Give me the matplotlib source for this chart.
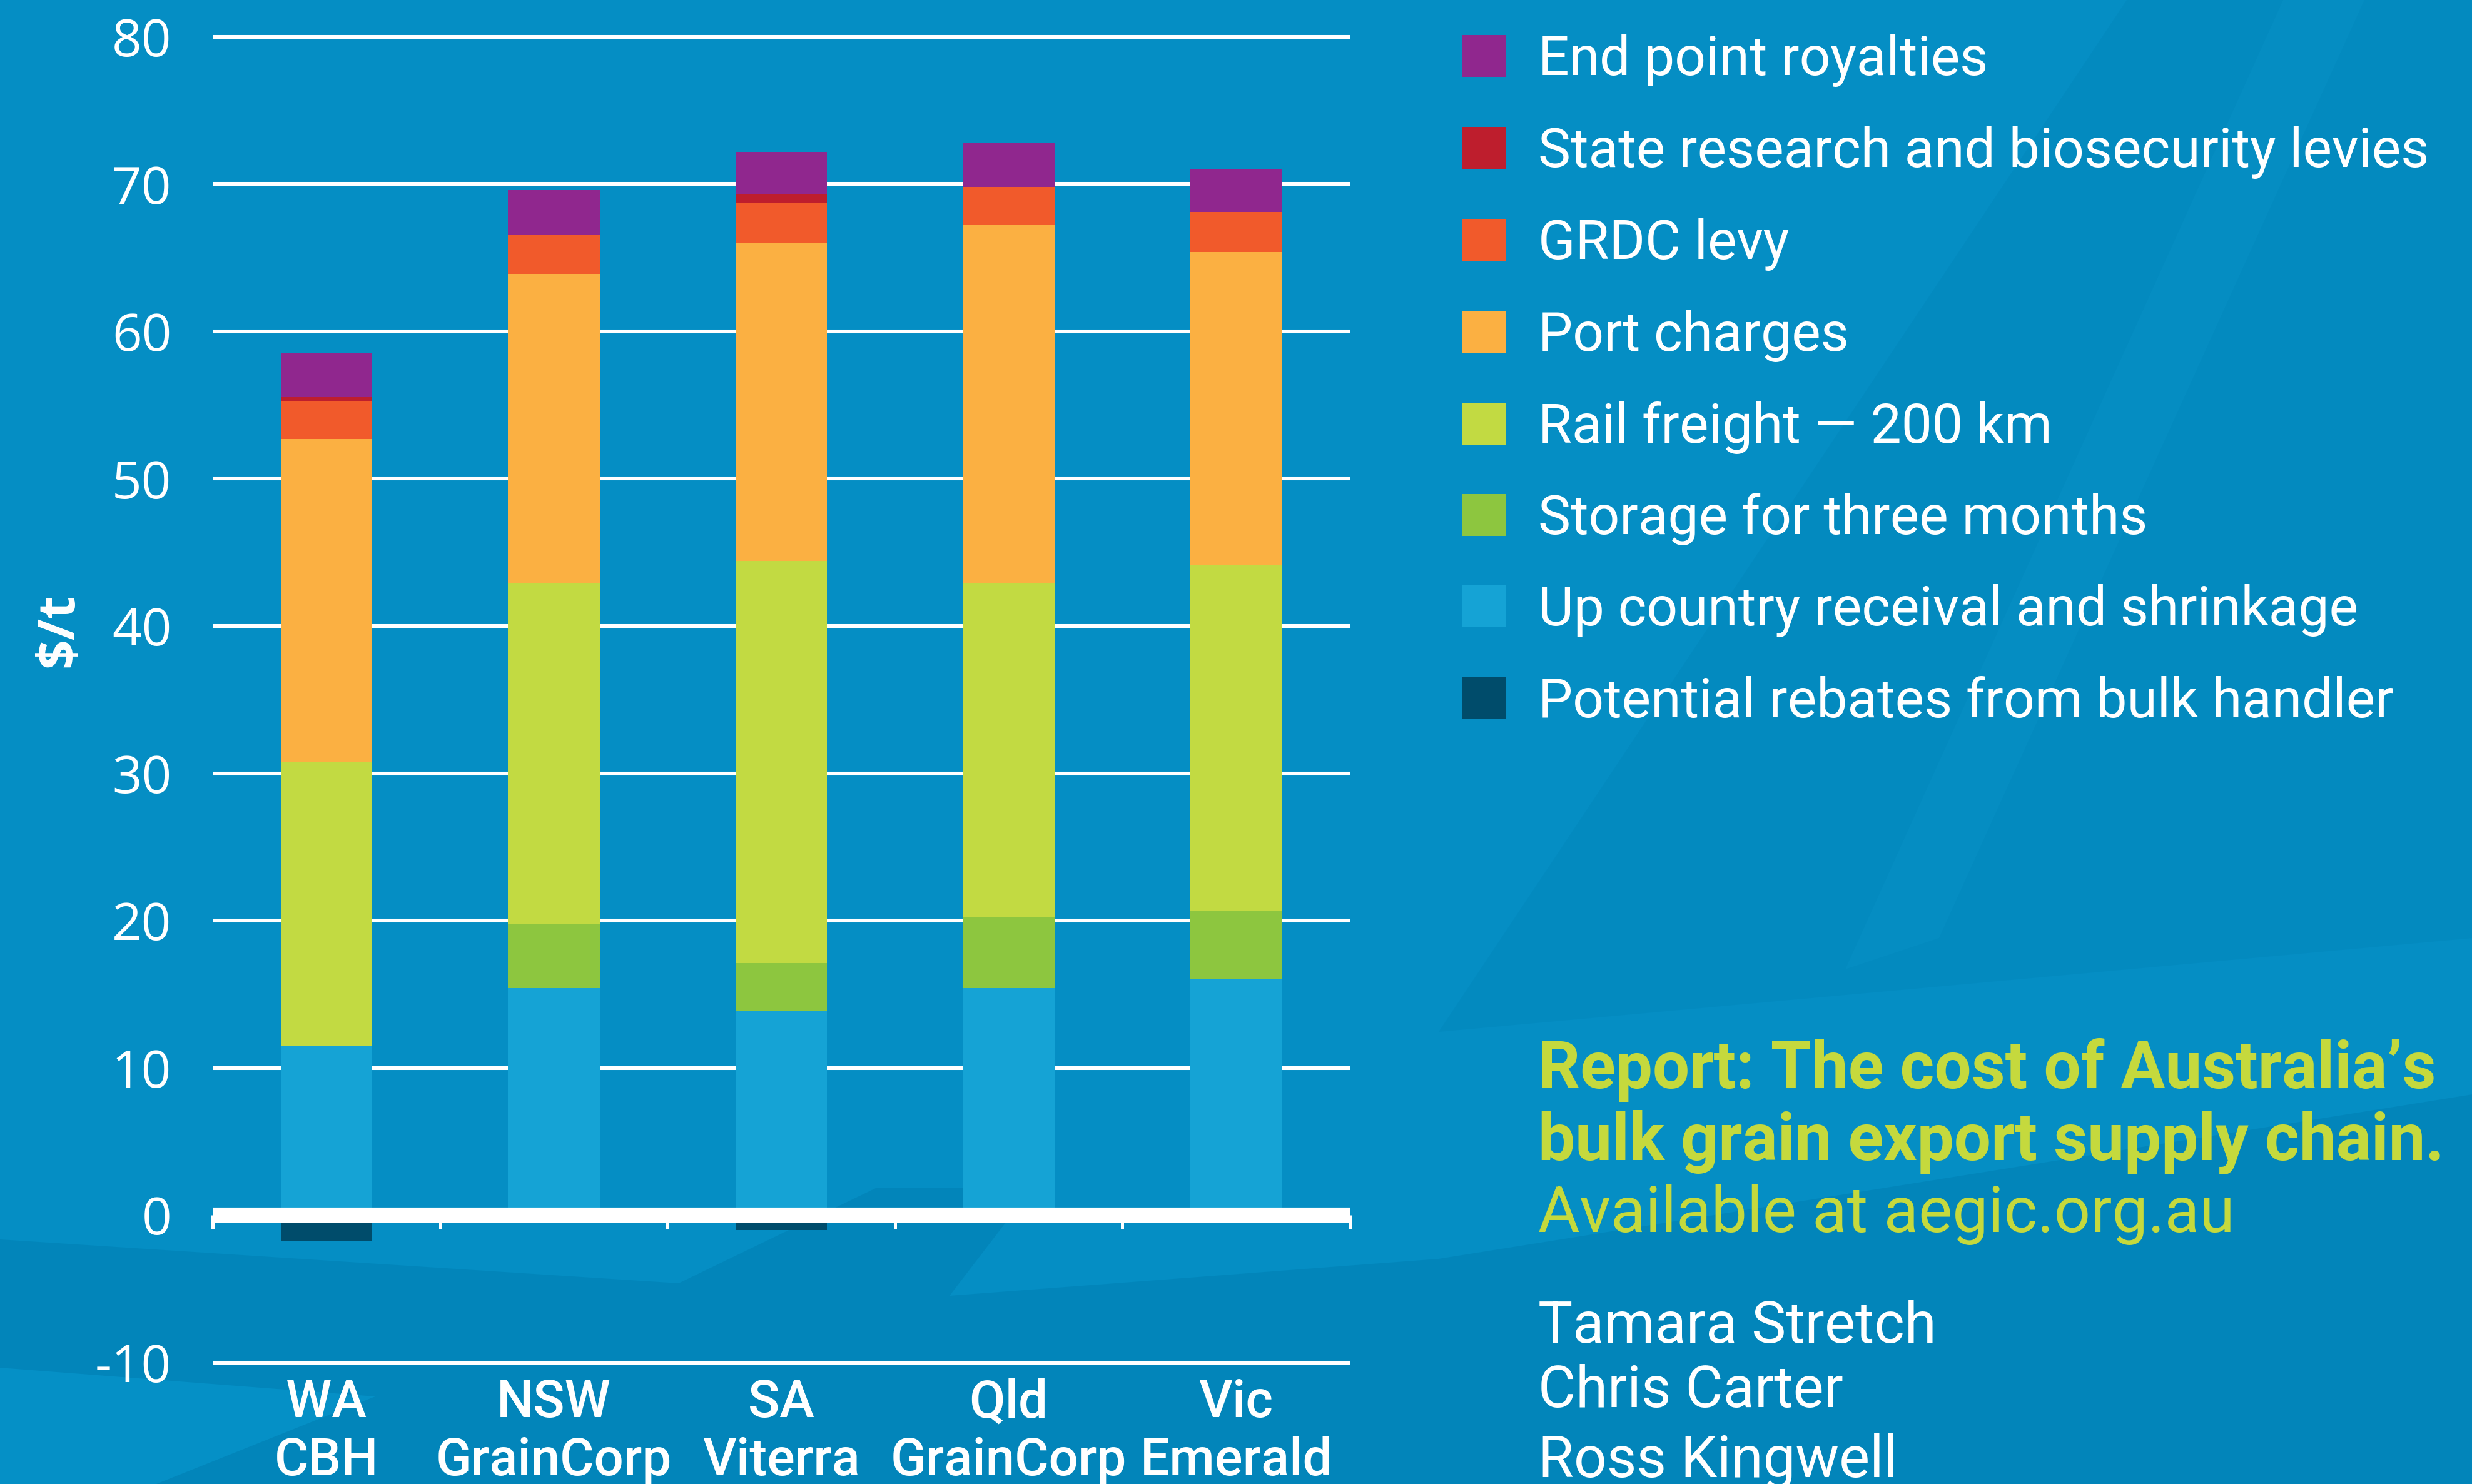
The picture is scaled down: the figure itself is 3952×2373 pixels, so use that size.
import numpy as np
import matplotlib.pyplot as plt
from matplotlib import font_manager
from matplotlib.patches import Polygon

W, H = 3953, 2373
DPI = 300

categories = ["WA\nCBH", "NSW\nGrainCorp", "SA\nViterra", "Qld\nGrainCorp", "Vic\nEmerald"]
up_country = [11.5, 15.4, 13.9, 15.4, 16.0]
storage = [0.0, 4.4, 3.2, 4.8, 4.7]
rail = [19.3, 23.1, 27.3, 22.7, 23.4]
port = [21.9, 21.0, 21.6, 24.3, 21.3]
grdc = [2.6, 2.7, 2.7, 2.6, 2.7]
state_levies = [0.25, 0.0, 0.6, 0.0, 0.0]
royalties = [3.0, 3.0, 2.9, 3.0, 2.9]
rebates = [-1.8, 0.0, -1.0, 0.0, 0.0]
yticks = [-10, 0, 10, 20, 30, 40, 50, 60, 70, 80]

BG = "#058ec4"
GREEN_TXT = "#c5d93d"

names = {f.name for f in font_manager.fontManager.ttflist}
narrow = "Liberation Sans Narrow" if "Liberation Sans Narrow" in names else "Roboto"
plt.rcParams["axes.unicode_minus"] = False
plt.rcParams["font.family"] = ["Open Sans", "DejaVu Sans"]

fig = plt.figure(figsize=(W / DPI, H / DPI), dpi=DPI, facecolor=BG)


def px(x, y):
    return (x / W, 1 - y / H)


# faint background swooshes
shapes = [
    ([(0, 1982), (1085, 2052), (1400, 1900), (1650, 1900), (1518, 2072), (2300, 2013),
      (3953, 1750), (3953, 2373), (0, 2373)], "#0080b4", 0.6),
    ([(0, 2187), (600, 2233), (250, 2373), (0, 2373)], "#0590c6", 1.0),
    ([(2300, 1650), (3400, 0), (3953, 0), (3953, 1500)], "#0083b8", 0.35),
    ([(3650, 0), (3780, 0), (3100, 1500), (2950, 1550)], "#0a94c9", 0.3),
]
for pts, col, a in shapes:
    fig.add_artist(Polygon([px(*p) for p in pts], closed=True, transform=fig.transFigure,
                           facecolor=col, edgecolor="none", alpha=a, zorder=-5))

ax = fig.add_axes([340 / W, 1 - 2185.6 / H, 1818 / W, 2133.7 / H])
ax.set_facecolor("none")

x = np.arange(len(categories))
width = 0.403
stack = [
    ("Up country receival and shrinkage", up_country, "#15a3d5"),
    ("Storage for three months", storage, "#8dc63f"),
    ("Rail freight \u2014 200 km", rail, "#c2da42"),
    ("Port charges", port, "#fbb042"),
    ("GRDC levy", grdc, "#f15a2b"),
    ("State research and biosecurity levies", state_levies, "#be1e2d"),
    ("End point royalties", royalties, "#90278e"),
]
bottom = np.zeros(len(categories))
bars = []
for label, vals, col in stack:
    b = ax.bar(x, vals, width=width, bottom=bottom, color=col, label=label, zorder=2)
    bars.append(b)
    bottom += np.array(vals)
reb = ax.bar(x, rebates, width=width, color="#004c6b",
             label="Potential rebates from bulk handler", zorder=2)

ax.set_xlim(-0.5, 4.5)
ax.set_ylim(-10.3, 80.3)
ax.set_yticks(yticks, labels=[str(t) for t in yticks])
ax.yaxis.grid(True, color="white", linewidth=1.45)
ax.set_axisbelow(True)
for s in ["left", "right", "top"]:
    ax.spines[s].set_visible(False)
ax.spines["bottom"].set_position(("data", 0))
ax.spines["bottom"].set_color("white")
ax.spines["bottom"].set_linewidth(5.8)
ax.spines["bottom"].set_capstyle("butt")
ax.spines["bottom"].set_zorder(3)

ax.set_xticks(x, categories)
ax.set_xticks(np.arange(-0.5, 5, 1), minor=True)
ax.tick_params(axis="x", which="major", length=0, pad=62.5, labelsize=20, labelcolor="white")
ax.tick_params(axis="x", which="minor", length=5.3, width=1.2, color="white", direction="out")
ax.tick_params(axis="y", length=0, pad=15.8, labelsize=20, labelcolor="white")
for t in ax.get_xticklabels():
    t.set_family(narrow)
    t.set_fontweight("medium")
    t.set_linespacing(1.2)

ax.set_ylabel("\\$/t", color="white", fontsize=20, fontweight="bold")
ax.yaxis.set_label_coords(-0.112, 0.552)

handles = bars[::-1] + [reb]
labels = [h.get_label() for h in handles]
fig.legend(handles, labels, loc="upper left", bbox_to_anchor=px(2337, 54), frameon=False,
           prop={"family": narrow, "size": 21.0}, labelcolor="white",
           handlelength=0.8, handleheight=0.8, handletextpad=0.6, labelspacing=0.71,
           borderpad=0, borderaxespad=0)

fig.text(*px(2459, 1740), "Report: The cost of Australia\u2019s", color=GREEN_TXT,
         fontsize=25.2, fontweight="bold", family=narrow, va="baseline")
fig.text(*px(2459, 1855), "bulk grain export supply chain.", color=GREEN_TXT,
         fontsize=25.2, fontweight="bold", family=narrow, va="baseline")
fig.text(*px(2459, 1970), "Available at aegic.org.au", color=GREEN_TXT,
         fontsize=24.5, family=narrow, va="baseline")
for name, yb in [("Tamara Stretch", 2147), ("Chris Carter", 2250), ("Ross Kingwell", 2362)]:
    fig.text(*px(2459, yb), name, color="white", fontsize=22.2, family=narrow, va="baseline")

fig.savefig("out.png", dpi=DPI, facecolor=BG)
